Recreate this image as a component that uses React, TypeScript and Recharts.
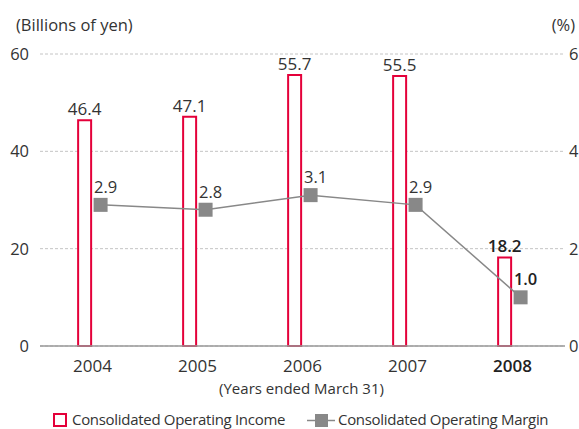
import React from 'react';
import { ComposedChart, Bar, Line, XAxis, YAxis, CartesianGrid, LabelList, Customized } from 'recharts';

const years = ['2004', '2005', '2006', '2007', '2008'];
const operatingIncome = [46.4, 47.1, 55.7, 55.5, 18.2];
const operatingMargin = [2.9, 2.8, 3.1, 2.9, 1.0];
const incomeTicks = [0, 20, 40, 60];
const marginTicks = [0, 2, 4, 6];

const FONT = '"Open Sans", sans-serif';
const TEXT = '#333';
const RED = '#e4003a';
const GRAY = '#888';

const W = 579;
const H = 429;
const MARGIN = { top: 54, right: 0, bottom: 53, left: 0 };
const X_AXIS_H = 30;
const PLOT_BOTTOM = H - MARGIN.bottom - X_AXIS_H;

const data = years.map((y, i) => ({ year: Number(y), income: operatingIncome[i], margin: operatingMargin[i] }));
const yearNums = years.map(Number);
const lastIndex = years.length - 1;
const first = yearNums[0];
const last = yearNums[lastIndex];

const XTick = (props: any) => {
  const { x, payload } = props;
  const bold = payload.value === last;
  return (
    <text x={x} y={PLOT_BOTTOM + 26} textAnchor="middle" fontFamily={FONT} fontSize={17} fill={bold ? '#222' : TEXT} fontWeight={bold ? 600 : 400}>
      {String(payload.value)}
    </text>
  );
};

const BarLabel = (props: any) => {
  const { x, y, width, value, index } = props;
  const bold = index === lastIndex;
  return (
    <text x={x + width / 2} y={y - 5} textAnchor="middle" fontFamily={FONT} fontSize={17} fill={bold ? '#222' : TEXT} fontWeight={bold ? 600 : 400}>
      {Number(value).toFixed(1)}
    </text>
  );
};

const LineLabel = (props: any) => {
  const { x, y, value, index } = props;
  const bold = index === lastIndex;
  return (
    <text x={x + 5} y={y - 12} textAnchor="middle" fontFamily={FONT} fontSize={16.5} fill={bold ? '#222' : TEXT} fontWeight={bold ? 600 : 400}>
      {Number(value).toFixed(1)}
    </text>
  );
};

const SquareDot = (props: any) => {
  const { cx, cy, index } = props;
  return <rect key={`d${index}`} x={cx - 7} y={cy - 7} width={14} height={14} fill={GRAY} />;
};

const Extras = () => (
  <g fontFamily={FONT} fill={TEXT}>
    <text x={16} y={31} fontSize={16.5}>(Billions of yen)</text>
    <text x={575} y={31} fontSize={16.5} textAnchor="end">(%)</text>
    <text x={301.5} y={394} fontSize={15} textAnchor="middle">(Years ended March 31)</text>
    <rect x={54} y={414} width={12} height={12} fill="#fff" stroke={RED} strokeWidth={2} />
    <text x={72} y={425} fontSize={15} letterSpacing={-0.3}>Consolidated Operating Income</text>
    <line x1={307} x2={335} y1={420.5} y2={420.5} stroke={GRAY} strokeWidth={1.5} />
    <rect x={315} y={414} width={13} height={13} fill={GRAY} />
    <text x={338} y={425} fontSize={15} letterSpacing={-0.3}>Consolidated Operating Margin</text>
  </g>
);

export default function App() {
  return (
    <div style={{ position: 'absolute', left: 0, top: 0, width: W, height: H, background: '#fff' }}>
      <ComposedChart width={W} height={H} data={data} margin={MARGIN}>
        <CartesianGrid xAxisId="main" yAxisId="left" vertical={false} stroke="#c4c4c4" strokeDasharray="3 2" />
        <XAxis
          xAxisId="main"
          dataKey="year"
          type="number"
          domain={[first - 0.5, last + 0.5]}
          ticks={yearNums}
          height={X_AXIS_H}
          tickLine={false}
          axisLine={{ stroke: '#999', strokeWidth: 1.5 }}
          tick={<XTick />}
        />
        <XAxis xAxisId="bar" dataKey="year" type="number" height={0} orientation="top" domain={[first - 0.5 + 0.075, last + 0.5 + 0.075]} hide />
        <XAxis xAxisId="line" dataKey="year" type="number" height={0} orientation="top" domain={[first - 0.5 - 0.077, last + 0.5 - 0.077]} hide />
        <YAxis
          yAxisId="left"
          width={40}
          domain={[0, 60]}
          ticks={incomeTicks}
          axisLine={false}
          tickLine={false}
          tickSize={0}
          tickMargin={11}
          tick={{ fontFamily: FONT, fontSize: 16.5, fill: TEXT }}
        />
        <YAxis
          yAxisId="right"
          orientation="right"
          width={14}
          domain={[0, 6]}
          ticks={marginTicks}
          axisLine={false}
          tickLine={false}
          tickSize={0}
          tickMargin={4}
          tick={{ fontFamily: FONT, fontSize: 16.5, fill: TEXT, textAnchor: 'start' }}
        />
        <Bar xAxisId="bar" yAxisId="left" dataKey="income" barSize={13} fill="#fff" stroke={RED} strokeWidth={2} isAnimationActive={false}>
          <LabelList dataKey="income" content={<BarLabel />} />
        </Bar>
        <Line
          xAxisId="line"
          yAxisId="right"
          dataKey="margin"
          stroke={GRAY}
          strokeWidth={1.5}
          dot={<SquareDot />}
          activeDot={false}
          isAnimationActive={false}
        >
          <LabelList dataKey="margin" content={<LineLabel />} />
        </Line>
        <Customized component={Extras} />
      </ComposedChart>
    </div>
  );
}
